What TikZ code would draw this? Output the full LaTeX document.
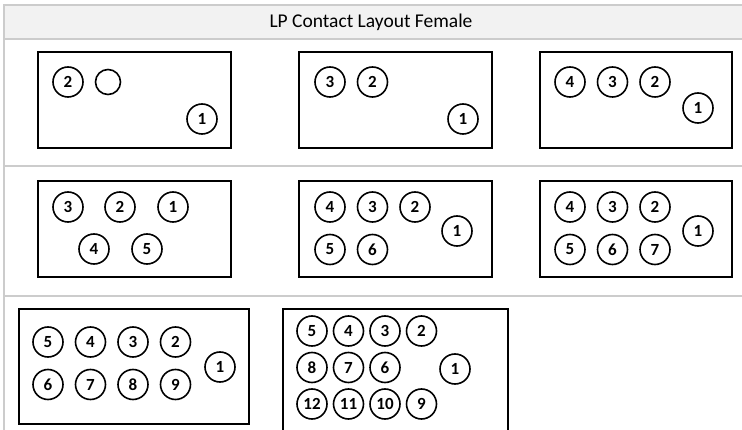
\documentclass[tikz,border=0pt]{standalone}
\usepackage{fontspec}
\setmainfont{Carlito}
\usetikzlibrary{positioning}

\newcommand\pinsize{\fontsize{17pt}{17pt}\selectfont\bfseries}
\tikzset{
  contact/.style={circle,draw,line width=1.6pt,minimum size=30pt,inner sep=0pt,font=\pinsize},
  blank/.style={contact,minimum size=25pt},
  shell/.style={draw,line width=2pt},
  tabline/.style={draw=black!20,line width=1.2pt}
}

\begin{document}
\begin{tikzpicture}[x=1pt,y=-1pt,node distance=42.5pt]
\useasboundingbox (0,0) rectangle (742,430);
% table frame
\fill[black!5] (4,5) rectangle (742,39);
\draw[tabline] (742,5) -- (4,5) -- (4,430);
\draw[tabline] (4,39) -- (742,39);
\draw[tabline] (4,166) -- (742,166);
\draw[tabline] (4,296) -- (742,296);
\node (title) at (371,22) {\fontsize{19.5pt}{19.5pt}\selectfont LP Contact Layout Female};

% row 1
\draw[shell] (38,52) rectangle (231,148);
\node[contact] (a2) at (68,82) {2};
\node[blank] (a0) at (108,82) {};
\node[contact] (a1) at (202,119) {1};

\draw[shell] (299,52) rectangle (492,148);
\node[contact] (b3) at (330,82) {3};
\node[contact] [right of=b3] (b2) {2};
\node[contact] (b1) at (463,119) {1};

\draw[shell] (540,52) rectangle (732,148);
\node[contact] (c4) at (570,82) {4};
\node[contact] [right of=c4] (c3) {3};
\node[contact] [right of=c3] (c2) {2};
\node[contact] (c1) at (698,108) {1};

% row 2
\draw[shell] (38,181) rectangle (231,277);
\node[contact] (d3) at (68,207) {3};
\node[contact] (d2) at (120,207) {2};
\node[contact] (d1) at (173,207) {1};
\node[contact] (d4) at (94,249) {4};
\node[contact] (d5) at (147,249) {5};

\draw[shell] (299,181) rectangle (492,277);
\node[contact] (e4) at (330,207) {4};
\node[contact] [right of=e4] (e3) {3};
\node[contact] [right of=e3] (e2) {2};
\node[contact] [below of=e4] (e5) {5};
\node[contact] [right of=e5] (e6) {6};
\node[contact] (e1) at (457,231) {1};

\draw[shell] (540,181) rectangle (732,277);
\node[contact] (f4) at (570,207) {4};
\node[contact] [right of=f4] (f3) {3};
\node[contact] [right of=f3] (f2) {2};
\node[contact] [below of=f4] (f5) {5};
\node[contact] [right of=f5] (f6) {6};
\node[contact] [right of=f6] (f7) {7};
\node[contact] (f1) at (698,231) {1};

% row 3
\draw[shell] (19,309) rectangle (249,424);
\node[contact] (g5) at (48,342) {5};
\node[contact] [right of=g5] (g4) {4};
\node[contact] [right of=g4] (g3) {3};
\node[contact] [right of=g3] (g2) {2};
\node[contact] [below of=g5] (g6) {6};
\node[contact] [right of=g6] (g7) {7};
\node[contact] [right of=g7] (g8) {8};
\node[contact] [right of=g8] (g9) {9};
\node[contact] (g1) at (220,367) {1};

\begin{scope}[node distance=36.5pt]
\draw[shell] (283,309) rectangle (508,445);
\node[contact] (h5) at (312,331) {5};
\node[contact] [right of=h5] (h4) {4};
\node[contact] [right of=h4] (h3) {3};
\node[contact] [right of=h3] (h2) {2};
\node[contact] [below of=h5] (h8) {8};
\node[contact] [right of=h8] (h7) {7};
\node[contact] [right of=h7] (h6) {6};
\node[contact] [below of=h8] (h12) {12};
\node[contact] [right of=h12] (h11) {11};
\node[contact] [right of=h11] (h10) {10};
\node[contact] [right of=h10] (h9) {9};
\node[contact] (h1) at (455,369) {1};
\end{scope}
\end{tikzpicture}
\end{document}
